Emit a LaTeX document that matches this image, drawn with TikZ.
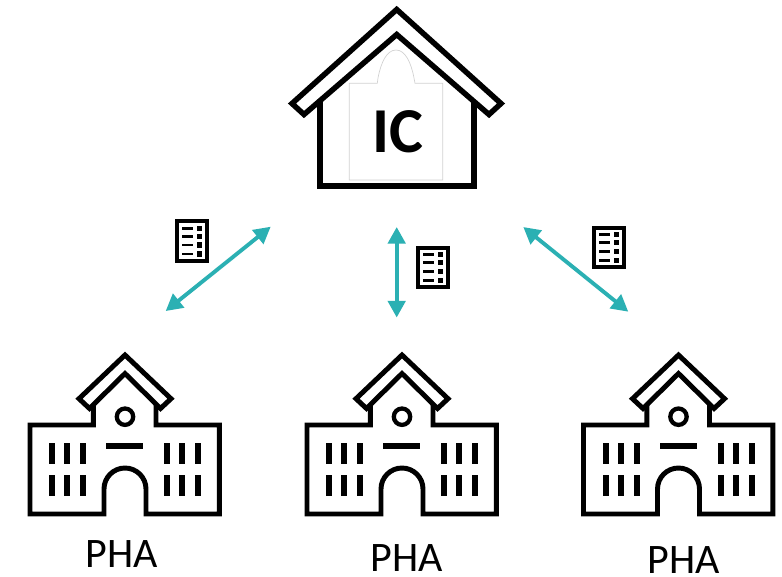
\documentclass[tikz,border=0pt]{standalone}
\usepackage{fontspec}
\setmainfont{Carlito}
\usetikzlibrary{arrows.meta}
\definecolor{teal1}{HTML}{2BB0B3}
\tikzset{
  x=0.75pt,y=-0.75pt,
  outline/.style={draw=black,line width=4.1pt,miter limit=10},
  thin outline/.style={draw=black,line width=3.7pt,miter limit=10},
  link/.style={draw=teal1,line width=2.9pt,{Triangle[length=12.5pt,width=13pt]}-{Triangle[length=12.5pt,width=13pt]}},
  phalabel/.style={font=\fontsize{31.5}{32}\selectfont,text=black,inner sep=0pt,anchor=center},
  school/.pic={
    \draw[thin outline,fill=white] (-31.7,64) -- (-31.7,85) -- (-95,85) -- (-95,174) -- (-21,174) -- (-21,149)
      arc[start angle=180,end angle=360,radius=21] -- (21,174) -- (94.3,174) -- (94.3,85) -- (31,85) -- (31,64);
    \draw[thin outline,fill=white] (0,15) -- (46,58.7) -- (35.5,68.5) -- (0,33.5) -- (-35.5,68.5) -- (-46,58.7) -- cycle;
    \draw[draw=black,line width=3.2pt] (0,76.7) circle[radius=8.2];
    \fill (-19,102.7) rectangle (18.3,109);
    \foreach \wx in {-76,-60.7,-45,39,54,70}{
      \fill (\wx,102.7) rectangle ++(6,21.3);
      \fill (\wx,135) rectangle ++(6,21);
    }
  },
  docicon/.pic={
    \draw[draw=black,line width=2.9pt,fill=white] (1.9,1.9) rectangle (31.6,41.6);
    \foreach \ly in {9,17,25.7,34.7}{
      \fill (6.7,\ly-1.3) rectangle (18.3,\ly+1.3);
      \fill (21.7,\ly-2.6) rectangle (27.3,\ly+2.6);
    }
  }
}
\begin{document}
\begin{tikzpicture}
\useasboundingbox[fill=white] (0,0) rectangle (782,576);
% IC building
\draw[outline,fill=white] (320,100) -- (320,186) -- (474,186) -- (474,100);
\draw[outline,fill=white] (396.7,9.5) -- (501,103.5) -- (489,114.5) -- (396.7,34.5) -- (304,114.5) -- (292,103.5) -- cycle;
\draw[draw=black!18,line width=0.5pt,fill=white] (349.3,83.3) -- (377.3,83.3) -- (378,78)
  .. controls (381,62) and (387,50) .. (396,50) .. controls (405,50) and (411,62) .. (414,78)
  -- (415,83.3) -- (442.7,83.3) -- (442.7,180) -- (349.3,180) -- cycle;
\node[font=\fontsize{48}{48}\bfseries\selectfont,inner sep=0pt] (ic) at (397.5,132) {IC};
% schools
\pic at (125,340) {school};
\pic at (402,340) {school};
\pic at (678.5,340) {school};
\node[phalabel] (pha1) at (122,554) {PHA};
\node[phalabel] (pha2) at (407,558) {PHA};
\node[phalabel] (pha3) at (684,560) {PHA};
% documents
\pic at (175,219.3) {docicon};
\pic at (416,245.7) {docicon};
\pic at (592,225.7) {docicon};
% connectors
\coordinate (a1) at (270.7,226.7);
\coordinate (b1) at (165.7,311);
\coordinate (a2) at (396.7,227);
\coordinate (b2) at (396.7,317.5);
\coordinate (a3) at (523.3,227);
\coordinate (b3) at (628.3,311.7);
\draw[link] (a1) -- (b1);
\draw[link] (a2) -- (b2);
\draw[link] (a3) -- (b3);
\end{tikzpicture}
\end{document}
